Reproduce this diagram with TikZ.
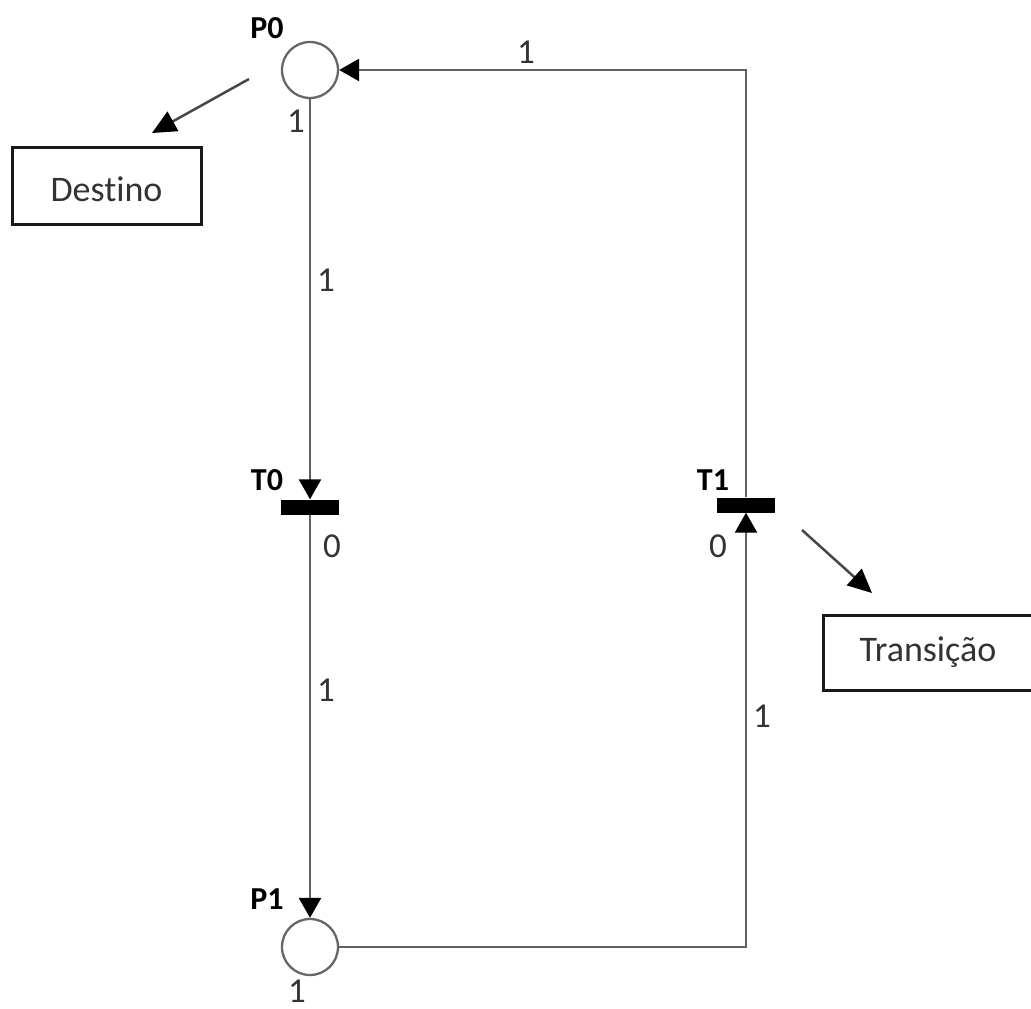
\documentclass[tikz,border=0pt]{standalone}
\usepackage{fontspec}
\setmainfont{Carlito}[Ligatures=NoCommon]
\usetikzlibrary{arrows.meta}
\begin{document}
\begin{tikzpicture}[x=1pt,y=-1pt,
  place/.style={circle, draw=black!60, line width=2.3pt, minimum size=56pt, inner sep=0pt},
  trans/.style={rectangle, fill=black, minimum width=58pt, minimum height=15pt, inner sep=0pt},
  arc/.style={draw=black!62, line width=2.5pt, -{Triangle[length=20pt,width=22pt,color=black]}},
  pointer/.style={draw=black!72, line width=2.5pt, -{Triangle[length=24pt,width=22pt,color=black]}},
  note/.style={rectangle, draw=black!90, line width=3pt, inner sep=0pt, text=black!80,
    font=\fontsize{36}{40}\selectfont},
  weight/.style={inner sep=0pt, text=black!80, font=\fontsize{35}{40}\selectfont},
  tag/.style={inner sep=0pt, text=black, font=\fontsize{32}{36}\selectfont\bfseries}
]
\useasboundingbox (0,0) rectangle (1031,1009);

% places and transitions
\node[place] (P0) at (310,70) {};
\node[place] (P1) at (310,947) {};
\node[trans] (T0) at (310,507) {};
\node[trans] (T1) at (746,505) {};

% names
\node[tag] (nP0) at (267,28) {P0};
\node[tag] (nT0) at (267,480) {T0};
\node[tag] (nT1) at (713,480) {T1};
\node[tag] (nP1) at (267,899) {P1};

% arcs
\draw[arc] (P0.south) -- (T0.north);
\draw[arc] (T0.south) -- (P1.north);
\draw[arc] (P1.east) -| (T1.south);
\draw[arc] (T1.north) |- (P0.east);

% markings and arc weights
\node[weight] (m0) at (296,121) {1};
\node[weight] (w1) at (326,280) {1};
\node[weight] (c0) at (332,546) {0};
\node[weight] (w2) at (326,690) {1};
\node[weight] (m1) at (297,991) {1};
\node[weight] (c1) at (718,546) {0};
\node[weight] (w3) at (762,716) {1};
\node[weight] (w4) at (526,52) {1};

% callouts
\node[note, minimum width=189pt, minimum height=77pt, text height=33pt] (dest) at (106.5,185.5) {Destino};
\node[note, minimum width=210pt, minimum height=75pt] (tran) at (928,652.5) {Transição};
\coordinate (d1) at (249,79);
\coordinate (d2) at (152,133);
\coordinate (t1) at (802,530);
\coordinate (t2) at (872,593);
\draw[pointer] (d1) -- (d2);
\draw[pointer] (t1) -- (t2);
\end{tikzpicture}
\end{document}
